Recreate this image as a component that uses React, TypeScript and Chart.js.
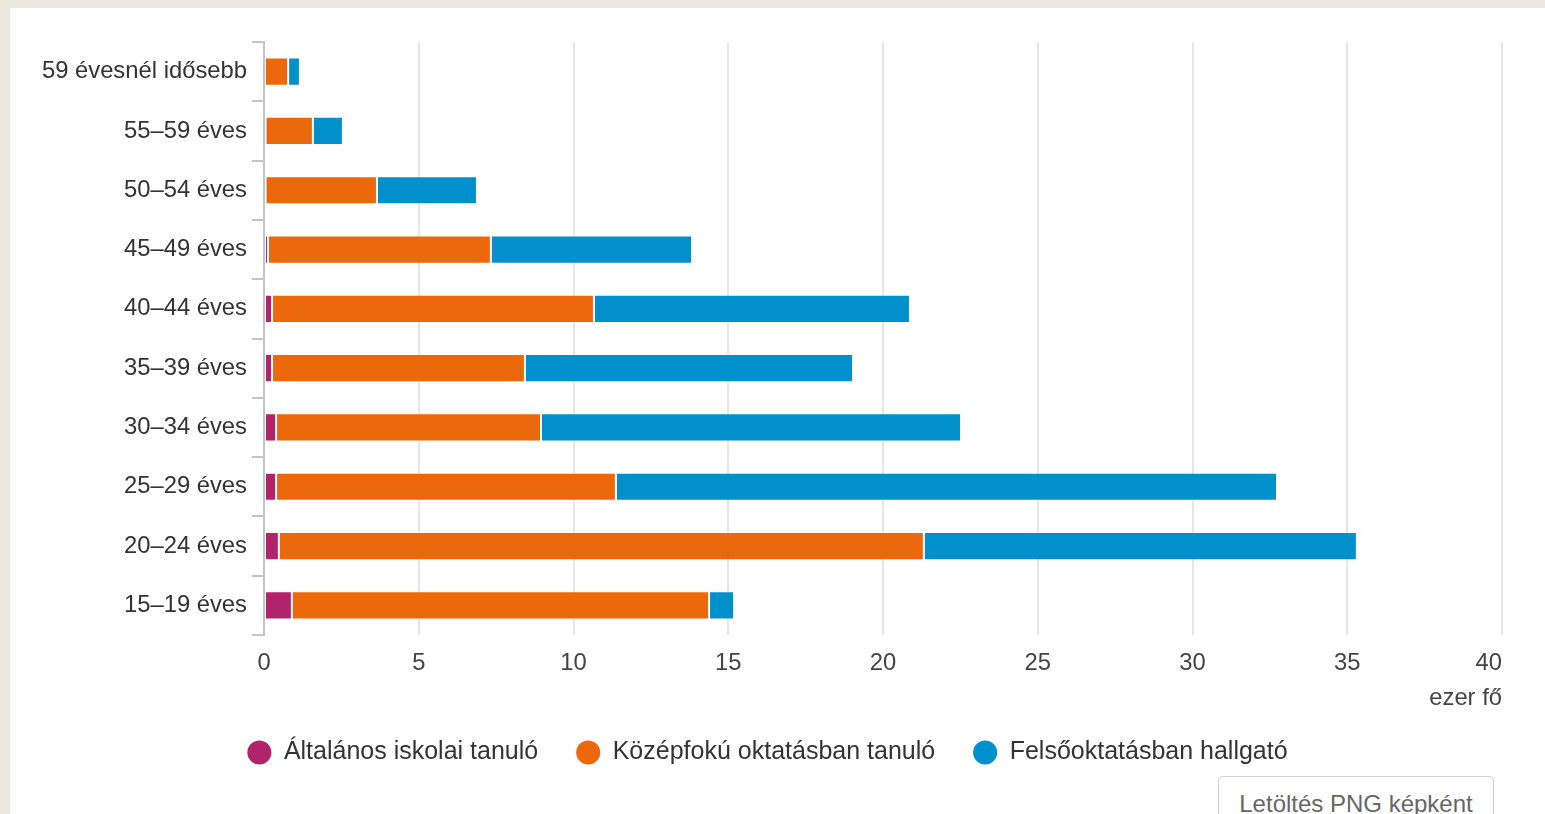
import React, { useEffect, useRef } from "react";
import { Chart, registerables } from "chart.js";

Chart.register(...registerables);

const categories = [
  "59 évesnél idősebb",
  "55–59 éves",
  "50–54 éves",
  "45–49 éves",
  "40–44 éves",
  "35–39 éves",
  "30–34 éves",
  "25–29 éves",
  "20–24 éves",
  "15–19 éves",
];
const seriesNames = [
  "Általános iskolai tanuló",
  "Középfokú oktatásban tanuló",
  "Felsőoktatásban hallgató",
];
const altalanos = [0, 0.05, 0.05, 0.13, 0.26, 0.26, 0.39, 0.39, 0.48, 0.9];
const kozepfoku = [0.78, 1.53, 3.6, 7.2, 10.4, 8.17, 8.56, 10.98, 20.84, 13.48];
const felsofoku = [0.38, 0.97, 3.23, 6.5, 10.21, 10.6, 13.57, 21.36, 13.99, 0.81];
const seriesColors = ["#b1246b", "#eb690b", "#0090cb"];
const axisTitle = "ezer fő";
const xMax = 40;
const xStep = 5;

const FONT = "'Liberation Sans', Arial, sans-serif";
const AXIS_FONT = 23.8;
const LEGEND_FONT = 25;

const xLabelPlugin = {
  id: "xLabelPlugin",
  afterDraw(chart: any) {
    const s = chart.scales.x;
    const ctx = chart.ctx;
    ctx.save();
    ctx.font = `${AXIS_FONT}px ${FONT}`;
    ctx.fillStyle = "#444";
    ctx.textBaseline = "middle";
    const n = s.ticks.length;
    s.ticks.forEach((t: any, i: number) => {
      const x = s.getPixelForValue(t.value);
      ctx.textAlign = i === n - 1 ? "right" : "center";
      ctx.fillText(String(t.value), x, chart.chartArea.bottom + 28);
    });
    ctx.restore();
  },
};

export default function App() {
  const ref = useRef<HTMLCanvasElement | null>(null);

  useEffect(() => {
    if (!ref.current) return;
    const values = [altalanos, kozepfoku, felsofoku];
    const chart = new Chart(ref.current, {
      type: "bar",
      data: {
        labels: categories,
        datasets: values.map((v, i) => ({
          label: seriesNames[i],
          data: v,
          backgroundColor: seriesColors[i],
          borderColor: "rgba(255,255,255,0.2)",
          borderWidth: 1,
          borderSkipped: false,
          barPercentage: 0.95,
          categoryPercentage: 0.5,
        })),
      },
      plugins: [xLabelPlugin],
      options: {
        indexAxis: "y",
        responsive: false,
        animation: false,
        layout: { padding: { top: 34, right: 43, left: 23, bottom: 0 } },
        scales: {
          x: {
            stacked: true,
            min: 0,
            max: xMax,
            ticks: { stepSize: xStep, display: false },
            grid: { color: "#e6e6e6", lineWidth: 2, drawTicks: false },
            border: { display: false },
            title: {
              display: true,
              text: axisTitle,
              align: "end",
              color: "#444",
              font: { family: FONT, size: AXIS_FONT },
              padding: { top: 0, bottom: -11 },
            },
            afterFit: (s: any) => {
              s.height = 67;
              s.paddingLeft = 0;
              s.paddingRight = 0;
            },
          },
          y: {
            stacked: true,
            ticks: {
              padding: 5,
              color: "#333",
              font: { family: FONT, size: AXIS_FONT },
            },
            grid: {
              drawOnChartArea: false,
              drawTicks: true,
              tickLength: 12,
              tickColor: "#c4c4c4",
              lineWidth: 2,
              offset: true,
            },
            border: { display: true, color: "#c4c4c4", width: 2 },
            afterFit: (s: any) => {
              s.width = 231;
              s.paddingTop = 0;
              s.paddingBottom = 0;
            },
          },
        },
        plugins: {
          tooltip: { enabled: false },
          legend: {
            position: "bottom",
            labels: {
              usePointStyle: true,
              pointStyle: "circle",
              boxWidth: 24,
              boxHeight: 17,
              padding: 38,
              color: "#333",
              font: { family: FONT, size: LEGEND_FONT },
              generateLabels: (c: any) =>
                (Chart.defaults.plugins.legend.labels as any)
                  .generateLabels(c)
                  .map((l: any) => ({ ...l, lineWidth: 0, strokeStyle: "rgba(0,0,0,0)" })),
            },
          },
        },
      },
    });
    return () => chart.destroy();
  }, []);

  return (
    <div
      style={{
        position: "fixed",
        inset: 0,
        background: "#ebe7dd",
        overflow: "hidden",
      }}
    >
      <div
        style={{
          position: "absolute",
          left: 10,
          top: 8,
          right: 0,
          bottom: 0,
          background: "#ffffff",
        }}
      >
        <canvas
          ref={ref}
          width={1535}
          height={767}
          style={{ position: "absolute", left: 0, top: 0, width: 1535, height: 767 }}
        />
        <div
          style={{
            position: "absolute",
            left: 1208,
            top: 768,
            width: 276,
            height: 60,
            border: "1px solid #d0d0d0",
            borderRadius: 5,
            boxSizing: "border-box",
            fontFamily: FONT,
            fontSize: 24,
            color: "#666",
            textAlign: "center",
            lineHeight: "28px",
            paddingTop: 13,
          }}
        >
          Letöltés PNG képként
        </div>
      </div>
    </div>
  );
}
